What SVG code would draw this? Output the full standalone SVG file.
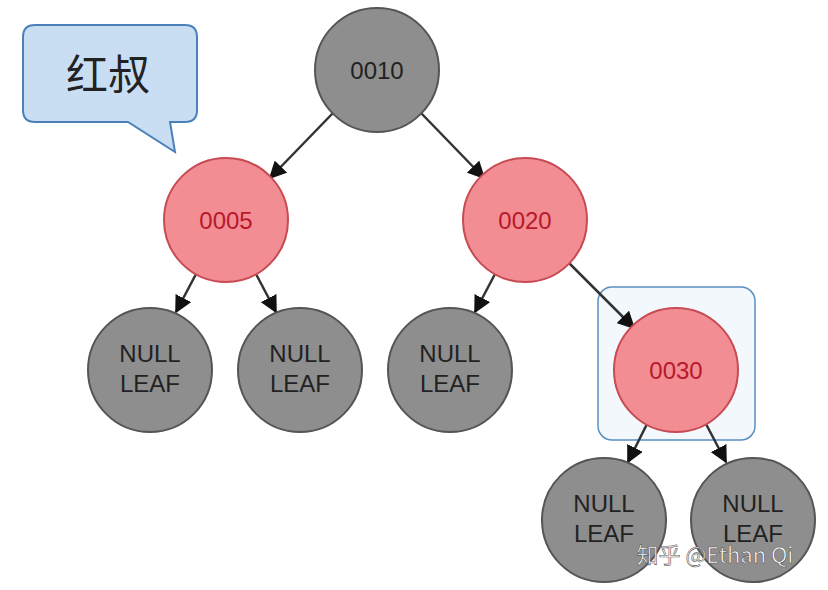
<svg xmlns="http://www.w3.org/2000/svg" width="828" height="590" viewBox="0 0 828 590">
<defs>
<marker id="ah" viewBox="0 0 10 10" refX="9" refY="5" markerWidth="7" markerHeight="7" orient="auto"><path d="M0,0 L10,5 L0,10 z" fill="#111"/></marker>
<style>
.g{fill:#8e8e8e;stroke:#555;stroke-width:2}
.r{fill:#f28d93;stroke:#c84a52;stroke-width:2}
.t{font-family:"Liberation Sans",Arial,sans-serif;font-size:24px;text-anchor:middle;fill:#222}
.tr{font-family:"Liberation Sans",Arial,sans-serif;font-size:24px;text-anchor:middle;fill:#b8182a}
.c{stroke:#333;stroke-width:2.5;fill:none;marker-end:url(#ah)}
</style>
</defs>
<rect width="828" height="590" fill="#fff"/>
<g id="callout">
<path d="M35,25 H185 Q197,25 197,37 V110 Q197,122 185,122 H170 L175,152 L128,122 H35 Q23,122 23,110 V37 Q23,25 35,25 Z" fill="#c9def3" stroke="#4b81b8" stroke-width="2"/>
<text x="108" y="90" font-family="'Noto Sans CJK SC',sans-serif" font-size="42" text-anchor="middle" fill="#222">红叔</text>
</g>
<g id="highlight"><rect x="598" y="287" width="157" height="153" rx="14" fill="#f3f8fd" stroke="#5a8fc0" stroke-width="1.5"/></g>
<g id="connectors">
<line class="c" x1="333" y1="113" x2="270" y2="178"/>
<line class="c" x1="421" y1="113" x2="484" y2="178"/>
<line class="c" x1="196" y1="274" x2="176" y2="312"/>
<line class="c" x1="256" y1="274" x2="276" y2="312"/>
<line class="c" x1="495" y1="274" x2="475" y2="312"/>
<line class="c" x1="568" y1="262" x2="634" y2="328"/>
<line class="c" x1="647" y1="424" x2="628" y2="462"/>
<line class="c" x1="706" y1="424" x2="726" y2="462"/>
</g>
<g id="n0010"><circle class="g" cx="377" cy="70" r="62"/><text class="t" x="377" y="79">0010</text></g>
<g id="n0005"><circle class="r" cx="226" cy="220" r="62"/><text class="tr" x="226" y="229">0005</text></g>
<g id="n0020"><circle class="r" cx="525" cy="220" r="62"/><text class="tr" x="525" y="229">0020</text></g>
<g id="leaf1"><circle class="g" cx="150" cy="370" r="62"/><text class="t" x="150" y="362">NULL</text><text class="t" x="150" y="392">LEAF</text></g>
<g id="leaf2"><circle class="g" cx="300" cy="370" r="62"/><text class="t" x="300" y="362">NULL</text><text class="t" x="300" y="392">LEAF</text></g>
<g id="leaf3"><circle class="g" cx="450" cy="370" r="62"/><text class="t" x="450" y="362">NULL</text><text class="t" x="450" y="392">LEAF</text></g>
<g id="n0030"><circle class="r" cx="676" cy="370" r="62"/><text class="tr" x="676" y="379">0030</text></g>
<g id="leaf4"><circle class="g" cx="604" cy="520" r="62"/><text class="t" x="604" y="512">NULL</text><text class="t" x="604" y="542">LEAF</text></g>
<g id="leaf5"><circle class="g" cx="753" cy="520" r="62"/><text class="t" x="753" y="512">NULL</text><text class="t" x="753" y="542">LEAF</text></g>
<text x="715" y="563" font-family="'Noto Sans CJK SC',sans-serif" font-size="22" text-anchor="middle" fill="#fff" stroke="#555" stroke-width="0.6">知乎 @Ethan Qi</text>
</svg>
